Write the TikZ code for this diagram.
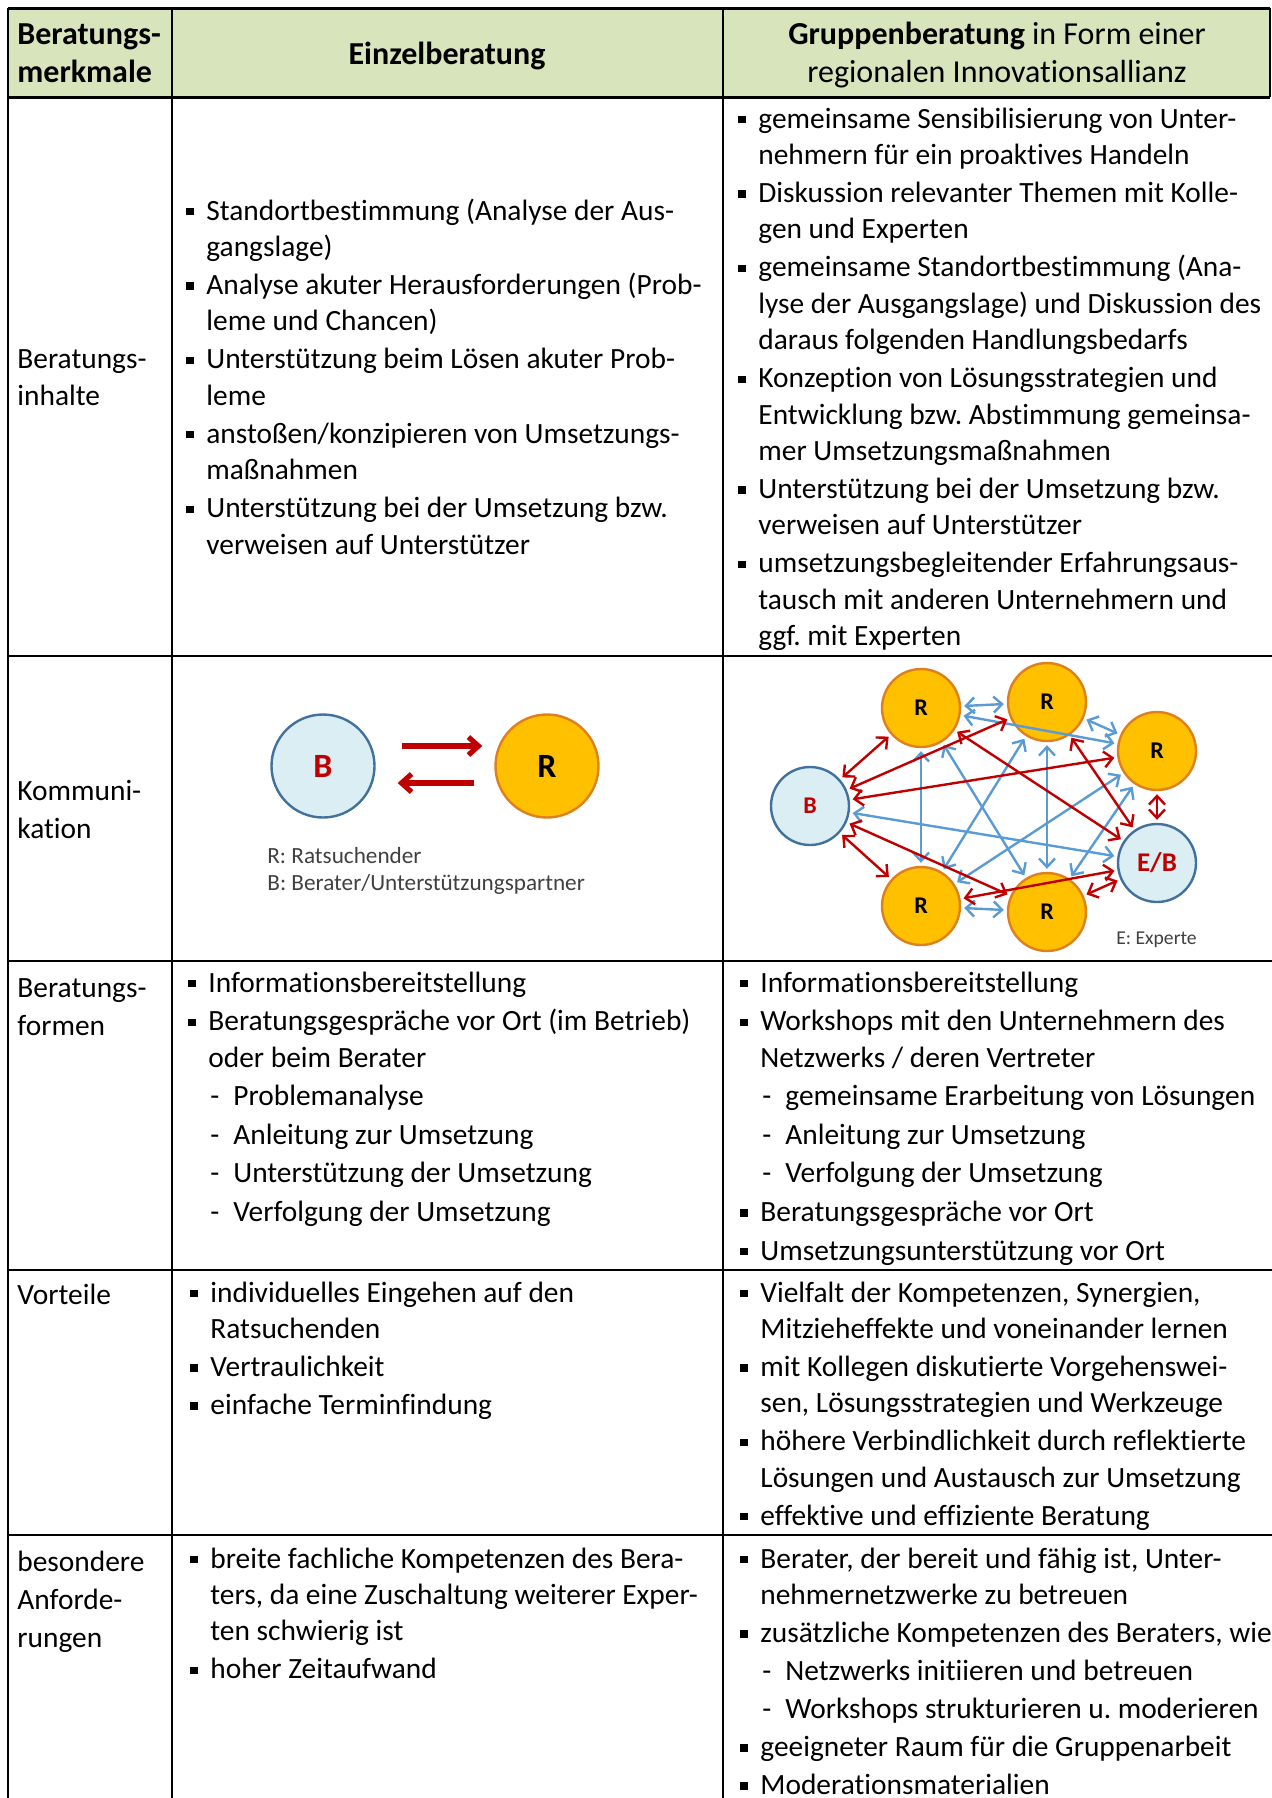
\documentclass[tikz,border=0pt]{standalone}
\usepackage{fontspec}
\setmainfont[Ligatures={NoCommon}]{Carlito}
\usetikzlibrary{arrows.meta}
\frenchspacing

\definecolor{kopfgruen}{RGB}{216,228,188}
\definecolor{ratgelb}{RGB}{255,192,0}
\definecolor{ratrand}{RGB}{222,128,30}
\definecolor{beratblau}{RGB}{218,238,243}
\definecolor{beratrand}{RGB}{65,113,156}
\definecolor{pfeilrot}{RGB}{192,0,0}
\definecolor{pfeilblau}{RGB}{91,155,213}
\definecolor{legendgrau}{RGB}{64,64,64}

\newcommand{\bul}{\makebox[10bp][l]{\rule[2.4bp]{3.6bp}{3.6bp}}}
\newcommand{\ein}{\hspace*{10bp}}
\newcommand{\unterpkt}{\hspace*{11bp}\makebox[11.5bp][l]{-}}
\newcommand{\zeilen}[1]{\begin{tabular}[t]{@{}l@{}}#1\end{tabular}}

\begin{document}
\begin{tikzpicture}[x=0.5bp, y=-0.5bp,
    txt/.style={inner sep=0pt, anchor=base west, font=\fontsize{14.7bp}{18.2bp}\selectfont\frenchspacing},
    kopf/.style={inner sep=0pt, font=\fontsize{16bp}{19bp}\selectfont},
    legende/.style={inner sep=0pt, anchor=base west, text=legendgrau},
    kreisb/.style={circle, draw=beratrand, fill=beratblau, line width=1.2bp, text=pfeilrot, font=\bfseries},
    kreisr/.style={circle, draw=ratrand, fill=ratgelb, line width=1.2bp, font=\bfseries},
    netzrot/.style={{Straight Barb[length=4.3bp,width=8bp]}-{Straight Barb[length=4.3bp,width=8bp]}, pfeilrot, line width=1.2bp, shorten <=1.5bp, shorten >=1.5bp},
    netzblau/.style={{Straight Barb[length=4.3bp,width=8bp]}-{Straight Barb[length=4.3bp,width=8bp]}, pfeilblau, line width=1.2bp, shorten <=1.5bp, shorten >=1.5bp},
    einzelpfeil/.style={-{Straight Barb[length=5bp,width=9bp]}, pfeilrot, line width=2.6bp}]

    \useasboundingbox (0,0) rectangle (1272,1798);

    % table grid
    \fill[kopfgruen] (8,8) rectangle (1270,97);
    \draw[line width=1.5bp] (8,8) -- (1270,8);
    \draw[line width=1.5bp] (8,97) -- (1270,97);
    \draw[line width=1bp] (1270,8) -- (1270,97);
    \foreach \y in {656,961,1270,1535}
        \draw[line width=1bp] (8,\y) -- (1272,\y);
    \foreach \x in {8,172,723}
        \draw[line width=1bp] (\x,8) -- (\x,1798);

    % header
    \node[kopf, anchor=base west] (hdmerk) at (17,44) {\zeilen{\textbf{Beratungs-}\\ \textbf{merkmale}}};
    \node[kopf, anchor=base] (hdeinzel) at (447,64) {\textbf{Einzelberatung}};
    \node[kopf, anchor=base] (hdgruppe) at (997,44) {\begin{tabular}[t]{@{}c@{}}\textbf{Gruppenberatung} in Form einer\\ regionalen Innovationsallianz\end{tabular}};

    % Beratungsinhalte
    \node[txt] (inhmerk) at (17,368) {\zeilen{Beratungs-\\[0.4bp] inhalte}};
    \node[txt] (inheinzel) at (186,220) {\zeilen{%
        \bul Standortbestimmung (Analyse der Aus-\\
        \ein gangslage)\\[0.8bp]
        \bul Analyse akuter Herausforderungen (Prob-\\
        \ein leme und Chancen)\\[0.8bp]
        \bul Unterstützung beim Lösen akuter Prob-\\
        \ein leme\\[0.8bp]
        \bul anstoßen/konzipieren von Umsetzungs-\\
        \ein maßnahmen\\[0.8bp]
        \bul Unterstützung bei der Umsetzung bzw.\\
        \ein verweisen auf Unterstützer}};
    \node[txt] (inhgruppe) at (738,128) {\zeilen{%
        \bul gemeinsame Sensibilisierung von Unter-\\
        \ein nehmern für ein proaktives Handeln\\[0.8bp]
        \bul Diskussion relevanter Themen mit Kolle-\\
        \ein gen und Experten\\[0.8bp]
        \bul gemeinsame Standortbestimmung (Ana-\\
        \ein lyse der Ausgangslage) und Diskussion des\\
        \ein daraus folgenden Handlungsbedarfs\\[0.8bp]
        \bul Konzeption von Lösungsstrategien und\\
        \ein Entwicklung bzw. Abstimmung gemeinsa-\\
        \ein mer Umsetzungsmaßnahmen\\[0.8bp]
        \bul Unterstützung bei der Umsetzung bzw.\\
        \ein verweisen auf Unterstützer\\[0.8bp]
        \bul umsetzungsbegleitender Erfahrungsaus-\\
        \ein tausch mit anderen Unternehmern und\\
        \ein ggf. mit Experten}};

    % Kommunikation
    \node[txt] (kommerk) at (17,800) {\zeilen{Kommuni-\\[0.9bp] kation}};
    \node[kreisb, minimum size=51.5bp, font=\fontsize{17bp}{17bp}\selectfont\bfseries] (eb) at (323,766) {B};
    \node[kreisr, minimum size=51.5bp, font=\fontsize{17bp}{17bp}\selectfont\bfseries] (er) at (547,766) {R};
    \draw[einzelpfeil, shorten <=13bp, shorten >=6bp] ([yshift=10bp]eb.east) -- ([yshift=10bp]er.west);
    \draw[einzelpfeil, shorten <=10bp, shorten >=11bp] ([yshift=-8.5bp]er.west) -- ([yshift=-8.5bp]eb.east);
    \node[legende, font=\fontsize{11.6bp}{13.5bp}\selectfont] (leg1) at (267,863) {\zeilen{R: Ratsuchender\\ B: Berater/Unterstützungspartner}};

    \node[kreisb, minimum size=39bp, font=\fontsize{12bp}{12bp}\selectfont\bfseries] (gb) at (810,806) {B};
    \node[kreisr, minimum size=39bp, font=\fontsize{12bp}{12bp}\selectfont\bfseries] (gr1) at (921,708) {R};
    \node[kreisr, minimum size=39bp, font=\fontsize{12bp}{12bp}\selectfont\bfseries] (gr2) at (1047,702) {R};
    \node[kreisr, minimum size=39bp, font=\fontsize{12bp}{12bp}\selectfont\bfseries] (gr3) at (1157,751) {R};
    \node[kreisb, minimum size=39bp, font=\fontsize{13.5bp}{13.5bp}\selectfont\bfseries] (ge) at (1157,863) {E/B};
    \node[kreisr, minimum size=39bp, font=\fontsize{12bp}{12bp}\selectfont\bfseries] (gr4) at (921,906) {R};
    \node[kreisr, minimum size=39bp, font=\fontsize{12bp}{12bp}\selectfont\bfseries] (gr5) at (1047,912) {R};
    \foreach \a/\b in {gr1/gr2, gr2/gr3, gr1/gr3, gr1/gr4, gr1/gr5, gr2/gr4, gr2/gr5, gr3/gr4, gr3/gr5, gr4/gr5, gb/ge}
        \draw[netzblau] (\a) -- (\b);
    \foreach \a/\b in {gb/gr1, gb/gr2, gb/gr3, gb/gr4, gb/gr5, ge/gr1, ge/gr2, ge/gr3, ge/gr4, ge/gr5}
        \draw[netzrot] (\a) -- (\b);
    \node[legende, font=\fontsize{9.8bp}{12bp}\selectfont] (leg2) at (1116,944) {E: Experte};

    % Beratungsformen
    \node[txt] (formmerk) at (17,997) {\zeilen{Beratungs-\\[0.9bp] formen}};
    \node[txt] (formeinzel) at (188,992) {\zeilen{%
        \bul Informationsbereitstellung\\[1.1bp]
        \bul Beratungsgespräche vor Ort (im Betrieb)\\
        \ein oder beim Berater\\[1.1bp]
        \unterpkt Problemanalyse\\[1.1bp]
        \unterpkt Anleitung zur Umsetzung\\[1.1bp]
        \unterpkt Unterstützung der Umsetzung\\[1.1bp]
        \unterpkt Verfolgung der Umsetzung}};
    \node[txt] (formgruppe) at (740,992) {\zeilen{%
        \bul Informationsbereitstellung\\[1.1bp]
        \bul Workshops mit den Unternehmern des\\
        \ein Netzwerks / deren Vertreter\\[1.1bp]
        \unterpkt gemeinsame Erarbeitung von Lösungen\\[1.1bp]
        \unterpkt Anleitung zur Umsetzung\\[1.1bp]
        \unterpkt Verfolgung der Umsetzung\\[1.1bp]
        \bul Beratungsgespräche vor Ort\\[1.1bp]
        \bul Umsetzungsunterstützung vor Ort}};

    % Vorteile
    \node[txt] (vortmerk) at (17,1304) {Vorteile};
    \node[txt] (vorteinzel) at (190,1302) {\zeilen{%
        \bul individuelles Eingehen auf den\\
        \ein Ratsuchenden\\[0.8bp]
        \bul Vertraulichkeit\\[0.8bp]
        \bul einfache Terminfindung}};
    \node[txt] (vortgruppe) at (740,1302) {\zeilen{%
        \bul Vielfalt der Kompetenzen, Synergien,\\
        \ein Mitzieheffekte und voneinander lernen\\[0.8bp]
        \bul mit Kollegen diskutierte Vorgehenswei-\\
        \ein sen, Lösungsstrategien und Werkzeuge\\[0.8bp]
        \bul höhere Verbindlichkeit durch reflektierte\\
        \ein Lösungen und Austausch zur Umsetzung\\[0.8bp]
        \bul effektive und effiziente Beratung}};

    % besondere Anforderungen
    \node[txt] (anfmerk) at (17,1571) {\zeilen{besondere\\[0.9bp] Anforde-\\[0.9bp] rungen}};
    \node[txt] (anfeinzel) at (190,1568) {\zeilen{%
        \bul breite fachliche Kompetenzen des Bera-\\
        \ein ters, da eine Zuschaltung weiterer Exper-\\
        \ein ten schwierig ist\\[0.8bp]
        \bul hoher Zeitaufwand}};
    \node[txt] (anfgruppe) at (740,1568) {\zeilen{%
        \bul Berater, der bereit und fähig ist, Unter-\\
        \ein nehmernetzwerke zu betreuen\\[0.8bp]
        \bul zusätzliche Kompetenzen des Beraters, wie\\[0.8bp]
        \unterpkt Netzwerks initiieren und betreuen\\[0.8bp]
        \unterpkt Workshops strukturieren u. moderieren\\[0.8bp]
        \bul geeigneter Raum für die Gruppenarbeit\\[0.8bp]
        \bul Moderationsmaterialien}};
\end{tikzpicture}
\end{document}
